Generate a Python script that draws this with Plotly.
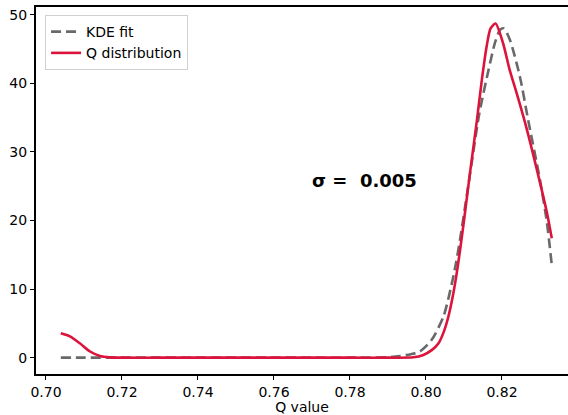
import plotly.graph_objects as go

# Q distribution samples (red curve)
q_x = [0.7039, 0.7063, 0.7089, 0.7116, 0.7142, 0.7168, 0.7200, 0.7300, 0.7400,
       0.7500, 0.7600, 0.7700, 0.7800, 0.7900, 0.7967, 0.7993, 0.8015, 0.8033,
       0.8047, 0.8059, 0.8070, 0.8080, 0.8090, 0.8100, 0.8116, 0.8134, 0.8147,
       0.8160, 0.8170, 0.8183, 0.8203, 0.8220, 0.8239, 0.8263, 0.8291, 0.8318,
       0.8331]
q_y = [3.55, 3.1, 2.1, 0.9, 0.25, 0.05, 0.0, 0.0, 0.0,
       0.0, 0.0, 0.0, 0.0, 0.0, 0.05, 0.4, 1.1, 2.1,
       3.8, 6.0, 8.8, 12.0, 15.8, 20.0, 27.0, 34.6, 40.5,
       45.5, 48.0, 48.7, 45.8, 42.0, 38.5, 33.8, 27.6, 21.2,
       17.4]

# Kernel density estimate fitted to the same distribution (dashed curve)
kde_x = [0.7039, 0.7100, 0.7200, 0.7300, 0.7400, 0.7500, 0.7600, 0.7700,
         0.7800, 0.7870, 0.7900, 0.7932, 0.7960, 0.7984, 0.8015, 0.8046,
         0.8068, 0.8078, 0.8089, 0.8107, 0.8124, 0.8140, 0.8164, 0.8182,
         0.8195, 0.8205, 0.8221, 0.8247, 0.8269, 0.8300, 0.8318, 0.8331]
kde_y = [0.0, 0.0, 0.0, 0.0, 0.0, 0.0, 0.0, 0.0,
         0.0, 0.02, 0.05, 0.25, 0.5, 0.9, 2.6, 6.0,
         10.8, 13.5, 17.0, 23.5, 29.8, 35.5, 41.8, 46.0,
         47.8, 48.0, 46.3, 41.0, 34.6, 25.9, 19.8, 13.5]

sigma_label = "σ =\u00a0 0.005"

x_ticks = [0.70, 0.72, 0.74, 0.76, 0.78, 0.80, 0.82]
y_ticks = [0, 10, 20, 30, 40, 50]

font_family = "DejaVu Sans"

fig = go.Figure()

fig.add_trace(go.Scatter(
    x=kde_x, y=kde_y, mode="lines", name="KDE fit",
    line=dict(color="#696969", width=2.6, dash="10px,5px", shape="spline", smoothing=0.7),
))
fig.add_trace(go.Scatter(
    x=q_x, y=q_y, mode="lines", name="Q distribution",
    line=dict(color="#DC143C", width=2.6, shape="spline", smoothing=0.7),
))

fig.add_annotation(
    x=0.7839, y=25.8, xref="x", yref="y",
    text="<b>" + sigma_label + "</b>", showarrow=False,
    xanchor="center", yanchor="middle",
    font=dict(family=font_family, size=18, color="black"),
)

axis_common = dict(
    showgrid=False, zeroline=False,
    showline=True, linecolor="black", linewidth=2,
    ticks="outside", ticklen=4, tickwidth=1, tickcolor="black",
    tickfont=dict(family=font_family, size=14, color="black"),
)

fig.update_xaxes(
    range=[0.69737, 0.83737], tickvals=x_ticks,
    ticktext=[f"{v:.2f}" for v in x_ticks],
    mirror=True,
    title=dict(text="Q value", font=dict(family=font_family, size=14, color="black"), standoff=2),
    **axis_common,
)
fig.update_yaxes(
    range=[-2.38, 51.12], tickvals=y_ticks,
    ticktext=[str(v) for v in y_ticks],
    **axis_common,
)

fig.update_layout(
    width=568, height=415,
    margin=dict(l=36, r=0, t=7, b=41),
    paper_bgcolor="white", plot_bgcolor="white",
    font=dict(family=font_family, size=14, color="black"),
    showlegend=True,
    legend=dict(
        x=0.017, y=0.978, xanchor="left", yanchor="top",
        bgcolor="rgba(255,255,255,0.9)", bordercolor="#d0d0d0", borderwidth=1,
        font=dict(family=font_family, size=14, color="black"),
    ),
)

fig.write_html("out.html")
